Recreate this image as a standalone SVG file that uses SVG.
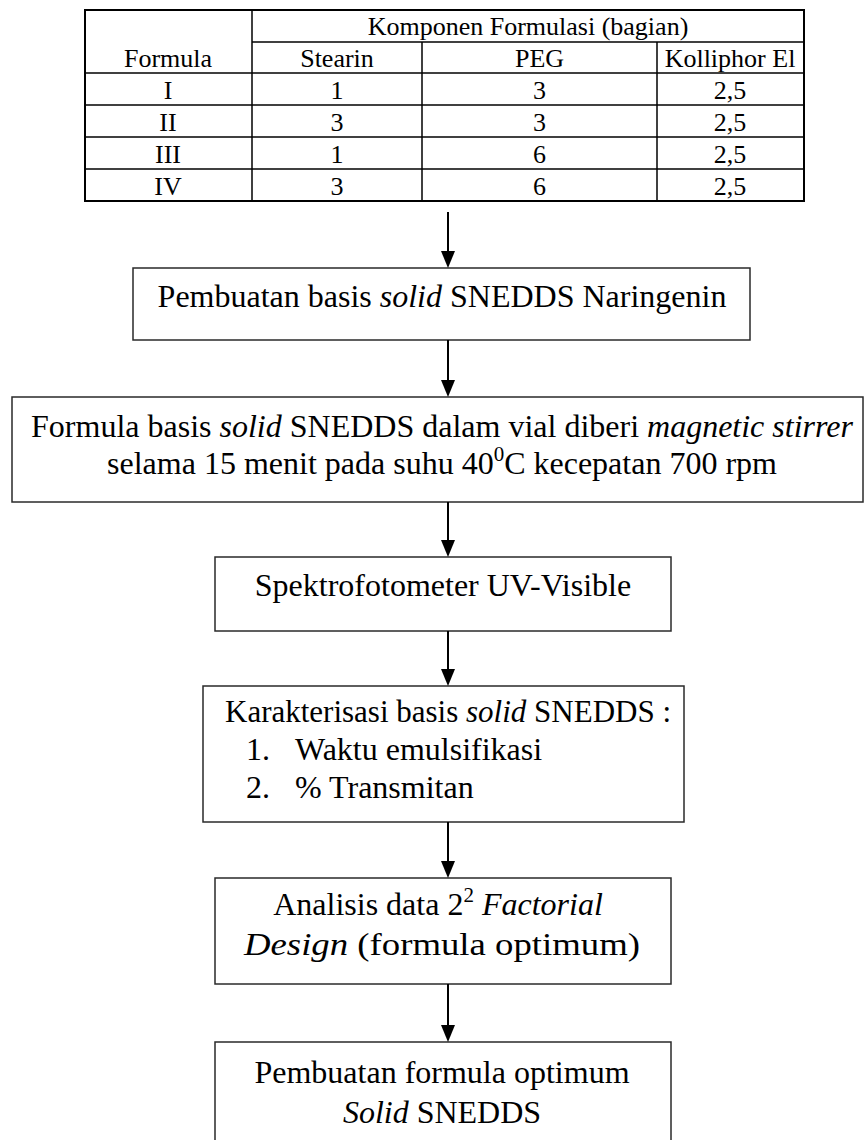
<svg xmlns="http://www.w3.org/2000/svg" width="866" height="1140" viewBox="0 0 866 1140">
  <style>
    .txt { font-family: "Liberation Serif", "Times New Roman", serif; fill: #000; }
    .tb { font-size: 26px; text-anchor: middle; }
    .fc { font-size: 32px; }
    .mid { text-anchor: middle; }
    .it { font-style: italic; }
    .grid { stroke: #000; stroke-width: 1.5; fill: none; }
    .frame { stroke: #000; stroke-width: 2; fill: none; }
    .box { stroke: #2a2a2a; stroke-width: 1.5; fill: #fff; }
    .conn { stroke: #000; stroke-width: 2; fill: none; }
  </style>
  <defs>
    <marker id="arrow" markerUnits="userSpaceOnUse" markerWidth="17" markerHeight="14" refX="0" refY="7" orient="auto">
      <path d="M0,0 L17,7 L0,14 Z" fill="#000"/>
    </marker>
  </defs>
  <rect width="866" height="1140" fill="#fff"/>

  <!-- Formulation table -->
  <g id="formula-table">
    <rect class="frame" x="85" y="10" width="719" height="191"/>
    <line class="grid" x1="252" y1="42" x2="804" y2="42"/>
    <line class="grid" x1="85" y1="73" x2="804" y2="73"/>
    <line class="grid" x1="85" y1="105" x2="804" y2="105"/>
    <line class="grid" x1="85" y1="137" x2="804" y2="137"/>
    <line class="grid" x1="85" y1="169" x2="804" y2="169"/>
    <line class="grid" x1="252" y1="10" x2="252" y2="201"/>
    <line class="grid" x1="422" y1="42" x2="422" y2="201"/>
    <line class="grid" x1="657" y1="42" x2="657" y2="201"/>

    <text class="txt tb" x="528" y="35">Komponen Formulasi (bagian)</text>
    <text class="txt tb" x="168" y="67">Formula</text>
    <text class="txt tb" x="337" y="67">Stearin</text>
    <text class="txt tb" x="539.5" y="67">PEG</text>
    <text class="txt tb" x="730" y="67">Kolliphor El</text>

    <text class="txt tb" x="168" y="98.5">I</text>
    <text class="txt tb" x="337" y="98.5">1</text>
    <text class="txt tb" x="539.5" y="98.5">3</text>
    <text class="txt tb" x="730" y="98.5">2,5</text>

    <text class="txt tb" x="168" y="130.5">II</text>
    <text class="txt tb" x="337" y="130.5">3</text>
    <text class="txt tb" x="539.5" y="130.5">3</text>
    <text class="txt tb" x="730" y="130.5">2,5</text>

    <text class="txt tb" x="168" y="162.5">III</text>
    <text class="txt tb" x="337" y="162.5">1</text>
    <text class="txt tb" x="539.5" y="162.5">6</text>
    <text class="txt tb" x="730" y="162.5">2,5</text>

    <text class="txt tb" x="168" y="194.5">IV</text>
    <text class="txt tb" x="337" y="194.5">3</text>
    <text class="txt tb" x="539.5" y="194.5">6</text>
    <text class="txt tb" x="730" y="194.5">2,5</text>
  </g>

  <!-- Process steps -->
  <g id="step-basis">
    <rect class="box" x="133" y="268" width="617" height="72"/>
    <text class="txt fc mid" x="442" y="307">Pembuatan basis <tspan class="it">solid</tspan> SNEDDS Naringenin</text>
  </g>

  <g id="step-stirrer">
    <rect class="box" x="12" y="397" width="851" height="105"/>
    <text class="txt fc mid" x="442" y="437">Formula basis <tspan class="it">solid</tspan> SNEDDS dalam vial diberi <tspan class="it">magnetic stirrer</tspan></text>
    <text class="txt fc mid" x="442" y="474">selama 15 menit pada suhu 40<tspan font-size="21" dy="-13">0</tspan><tspan dy="13">C kecepatan 700 rpm</tspan></text>
  </g>

  <g id="step-uv">
    <rect class="box" x="215" y="557" width="456" height="74"/>
    <text class="txt fc mid" x="443" y="596">Spektrofotometer UV-Visible</text>
  </g>

  <g id="step-karakterisasi">
    <rect class="box" x="203" y="686" width="481" height="136"/>
    <text class="txt" font-size="31" x="225" y="722">Karakterisasi basis <tspan class="it">solid</tspan> SNEDDS :</text>
    <text class="txt fc" x="246" y="760">1.</text>
    <text class="txt fc" x="295" y="760">Waktu emulsifikasi</text>
    <text class="txt fc" x="246" y="798">2.</text>
    <text class="txt fc" x="295" y="798">% Transmitan</text>
  </g>

  <g id="step-analisis">
    <rect class="box" x="215" y="878" width="456" height="106"/>
    <text class="txt fc mid" x="438" y="915">Analisis data 2<tspan font-size="21" dy="-13">2</tspan><tspan dy="13"> </tspan><tspan class="it">Factorial</tspan></text>
    <text class="txt fc mid" x="442" y="955" textLength="396" lengthAdjust="spacingAndGlyphs"><tspan class="it">Design</tspan> (formula optimum)</text>
  </g>

  <g id="step-optimum">
    <rect class="box" x="215" y="1042" width="456" height="130"/>
    <text class="txt fc mid" x="442" y="1083">Pembuatan formula optimum</text>
    <text class="txt fc mid" x="442" y="1123"><tspan class="it">Solid</tspan> SNEDDS</text>
  </g>

  <!-- Connectors -->
  <g id="connectors">
    <line class="conn" x1="448" y1="212" x2="448" y2="251" marker-end="url(#arrow)"/>
    <line class="conn" x1="448" y1="340" x2="448" y2="380" marker-end="url(#arrow)"/>
    <line class="conn" x1="448" y1="502" x2="448" y2="540" marker-end="url(#arrow)"/>
    <line class="conn" x1="448" y1="631" x2="448" y2="669" marker-end="url(#arrow)"/>
    <line class="conn" x1="448" y1="822" x2="448" y2="861" marker-end="url(#arrow)"/>
    <line class="conn" x1="448" y1="984" x2="448" y2="1025" marker-end="url(#arrow)"/>
  </g>
</svg>
